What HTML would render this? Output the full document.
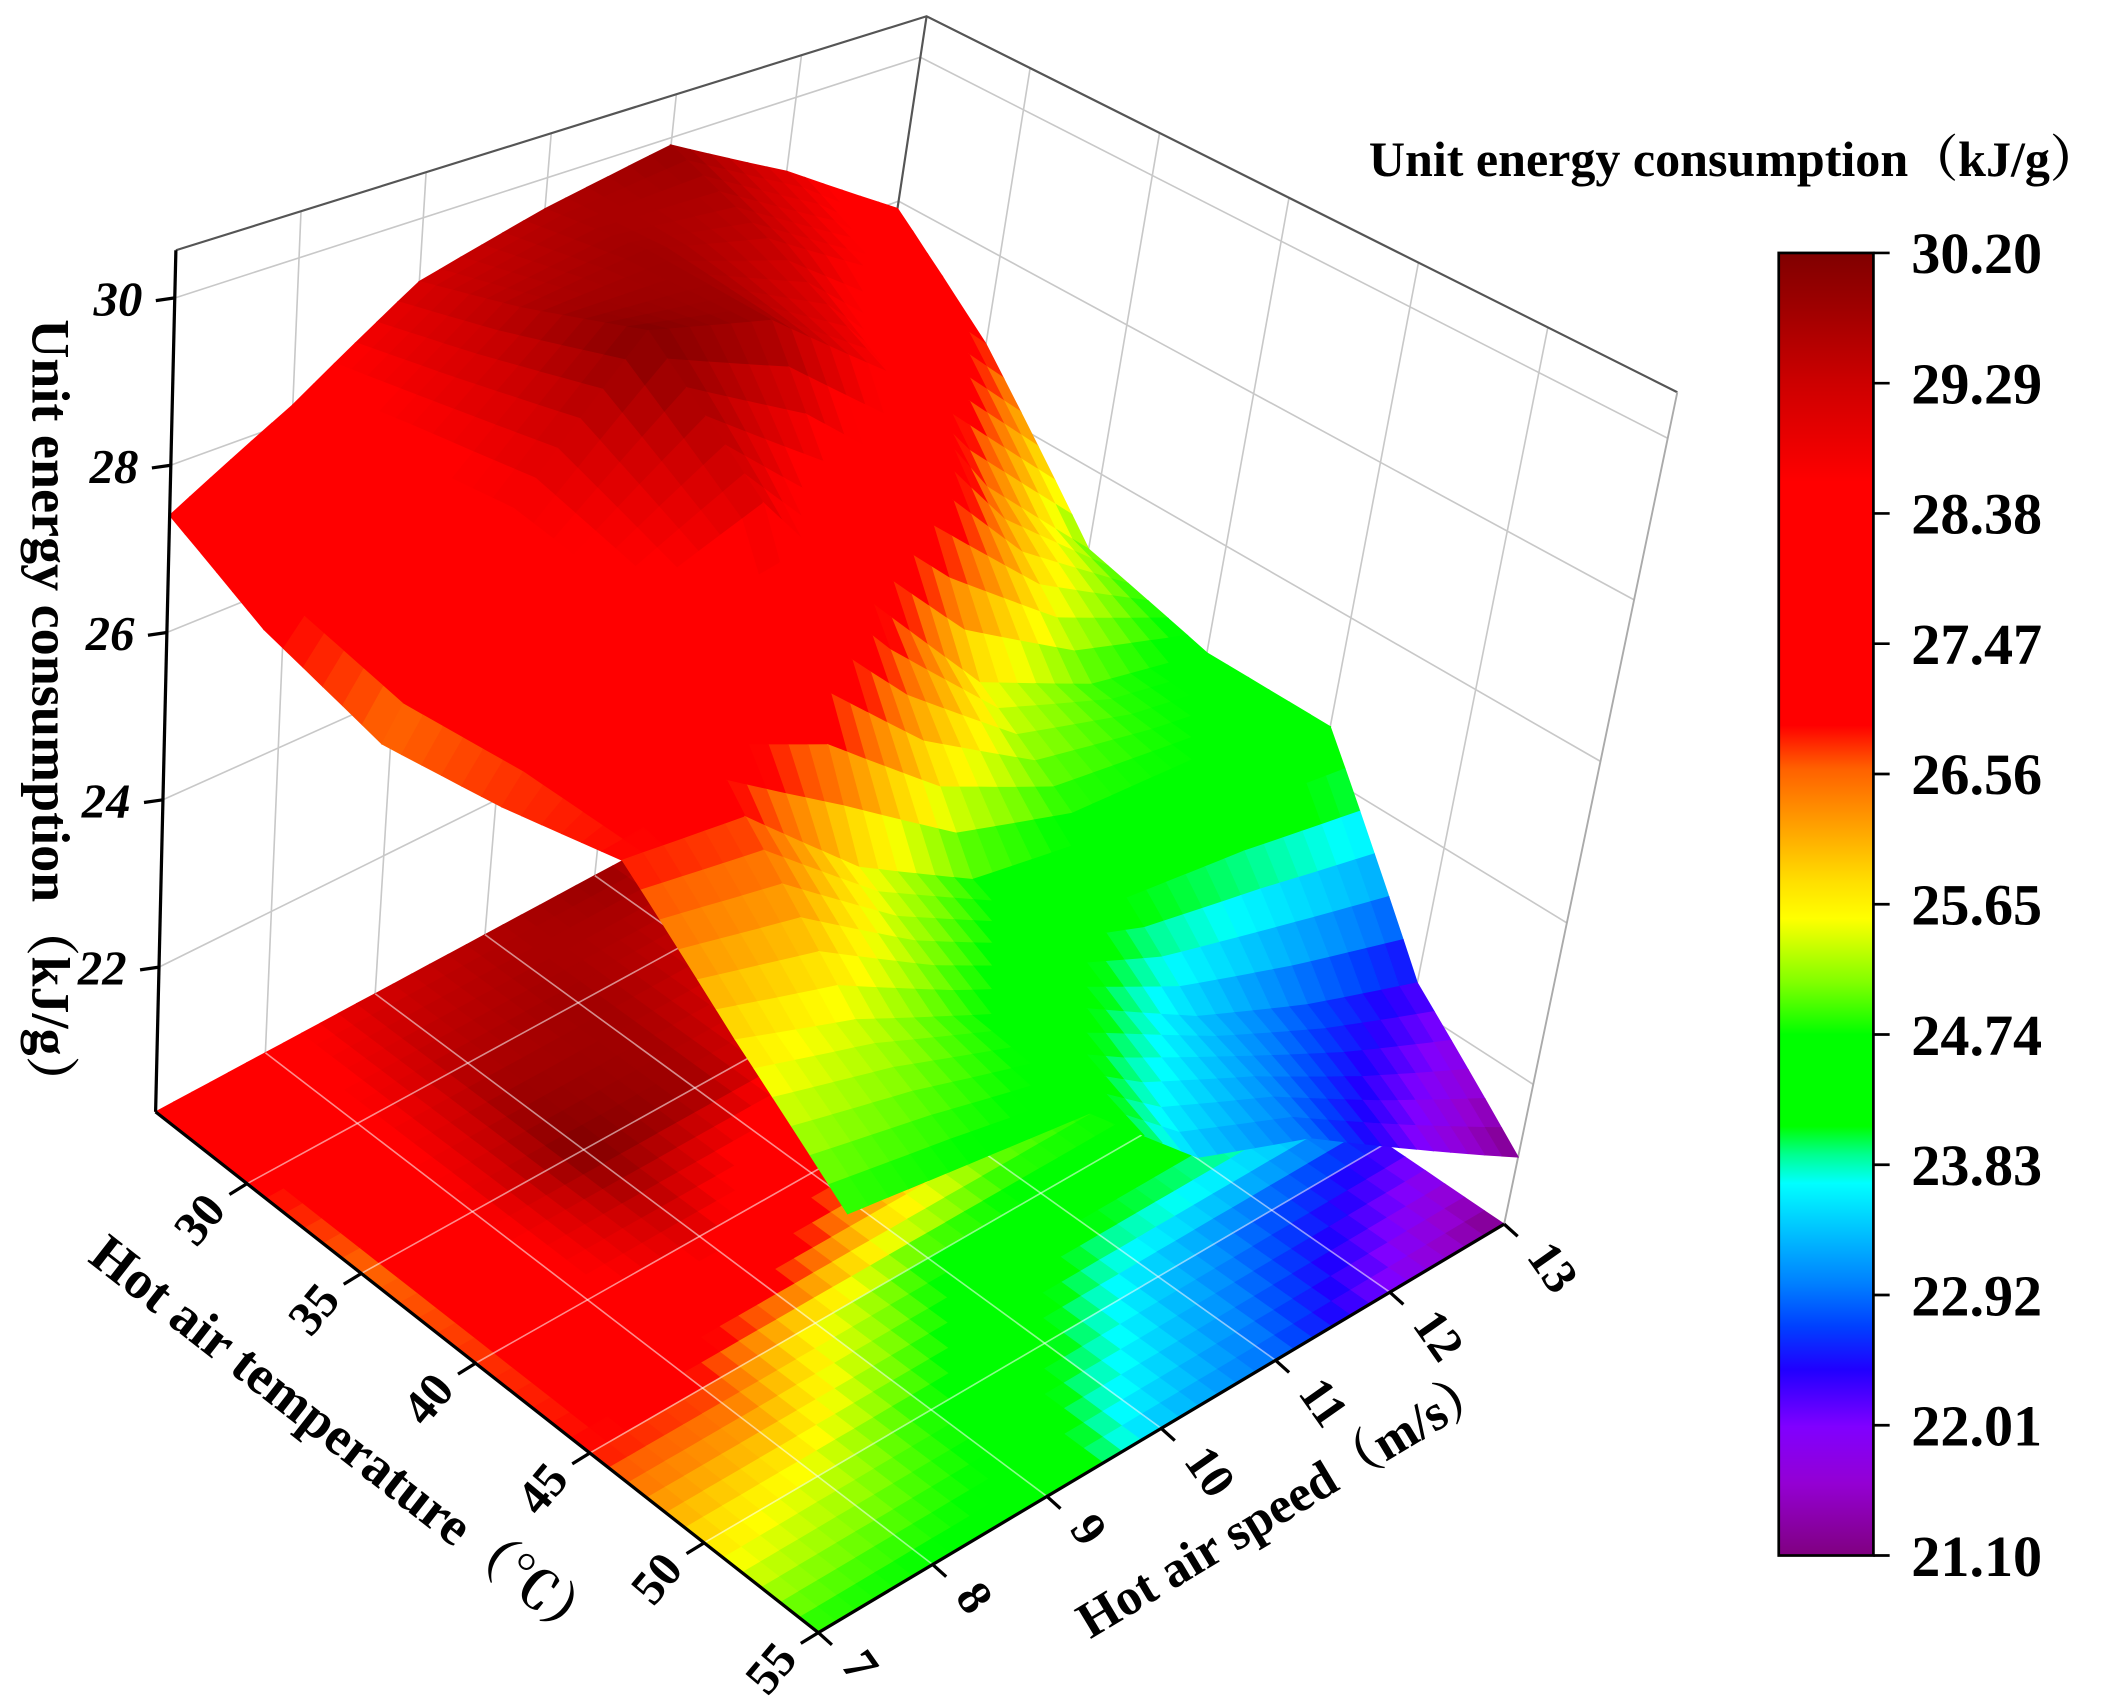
<!DOCTYPE html>
<html><head><meta charset="utf-8">
<style>
html,body{margin:0;padding:0;background:#fff;}
svg{display:block;font-family:"Liberation Serif","Noto Serif CJK SC",serif;font-weight:bold;}
</style></head>
<body>
<svg id="chart" width="2121" height="1707" viewBox="0 0 1568 1262" xmlns="http://www.w3.org/2000/svg">
<defs>
<linearGradient id="cbar" x1="0" y1="1" x2="0" y2="0"></linearGradient>
</defs>
<g id="walls"></g>
<g id="floor"></g>
<g id="surface"></g>
<g id="axes"></g>
<text transform="translate(24,236) rotate(90)" font-size="40">Unit energy consumption（kJ/g）</text>
<text transform="translate(64,932) rotate(38)" font-size="40">Hot air temperature（℃）</text>
<text transform="translate(806,1212) rotate(-31)" font-size="38">Hot air speed（m/s）</text>
<text x="1012" y="130" font-size="37">Unit energy consumption（kJ/g）</text>
<g id="colorbar"></g>
</svg>
<script>
// ---- data ----
const temps = [26, 30, 35, 40, 45, 50, 55];
const speeds = [7, 8, 9, 10, 11, 12, 13];
const energyT26 = [27.4, 28.2, 29.2, 29.6, 29.9, 29.0, 27.9];
const energyT30 = [26.8, 28.4, 29.6, 29.8, 29.4, 28.4, 26.8];
const energyT35 = [26.4, 28.6, 30.2, 29.8, 28.6, 26.5, 25.0];
const energyT40 = [26.6, 28.4, 29.0, 27.2, 25.6, 24.9, 24.6];
const energyT45 = [26.9, 26.8, 25.6, 24.8, 24.6, 24.7, 24.6];
const energyT50 = [25.8, 25.4, 24.8, 24.2, 23.4, 22.8, 22.3];
const energyT55 = [24.8, 24.7, 24.6, 23.4, 22.9, 22.0, 21.1];
const energyRows = [energyT26, energyT30, energyT35, energyT40, energyT45, energyT50, energyT55];
const zTicks = [22, 24, 26, 28, 30];
const tempTicks = [30, 35, 40, 45, 50, 55];
const speedTicks = [7, 8, 9, 10, 11, 12, 13];
const cbarLabels = ["21.10","22.01","22.92","23.83","24.74","25.65","26.56","27.47","28.38","29.29","30.20"];

// ---- geometry ----
const tMin = 26, tMax = 55, sMin = 7, sMax = 13, zMin = 20.27, zMax = 30.57;
const BL = [115, 822], F = [605, 1207], B = [602, 560], R = [1112, 905];
const BLt = [130, 185], Ft = [654, 503], Bt = [685, 12], Rt = [1240, 290];
function bil(p00, p10, p01, p11, a, b) {
  return [
    p00[0]*(1-a)*(1-b) + p10[0]*a*(1-b) + p01[0]*(1-a)*b + p11[0]*a*b,
    p00[1]*(1-a)*(1-b) + p10[1]*a*(1-b) + p01[1]*(1-a)*b + p11[1]*a*b
  ];
}
function proj(t, s, z) {
  const a = (t - tMin)/(tMax - tMin), b = (s - sMin)/(sMax - sMin), c = (z - zMin)/(zMax - zMin);
  const lo = bil(BL, F, B, R, a, b), hi = bil(BLt, Ft, Bt, Rt, a, b);
  return [lo[0] + (hi[0]-lo[0])*c, lo[1] + (hi[1]-lo[1])*c];
}
const stops = [[21.1,[128,0,128]],[21.6,[148,0,211]],[22.0,[128,0,255]],[22.4,[32,0,255]],[22.7,[0,64,255]],[23.0,[0,128,255]],[23.4,[0,200,255]],[23.7,[0,255,255]],[23.9,[0,255,144]],[24.1,[0,255,0]],[24.74,[0,255,0]],[25.1,[128,255,0]],[25.55,[255,255,0]],[25.8,[255,224,0]],[26.2,[255,160,0]],[26.6,[255,96,0]],[26.9,[255,0,0]],[28.6,[255,0,0]],[29.3,[204,0,0]],[29.8,[160,0,0]],[30.2,[128,0,0]]];
function cmap(v) {
  if (v <= stops[0][0]) return 'rgb(' + stops[0][1].join(',') + ')';
  for (let i = 1; i < stops.length; i++) {
    if (v <= stops[i][0]) {
      const f = (v - stops[i-1][0])/(stops[i][0]-stops[i-1][0]);
      const c = stops[i-1][1].map((x,k)=>Math.round(x + (stops[i][1][k]-x)*f));
      return 'rgb(' + c.join(',') + ')';
    }
  }
  return 'rgb(' + stops[stops.length-1][1].join(',') + ')';
}
const NS = 'http://www.w3.org/2000/svg';
function mk(tag, attrs, parent) {
  const el = document.createElementNS(NS, tag);
  for (const k in attrs) el.setAttribute(k, attrs[k]);
  parent.appendChild(el);
  return el;
}
function pts(arr) { return arr.map(p => p[0].toFixed(1) + ',' + p[1].toFixed(1)).join(' '); }
function zAt(i, j, u, v) {
  const z00 = energyRows[i][j], z10 = energyRows[i+1][j], z01 = energyRows[i][j+1], z11 = energyRows[i+1][j+1];
  return z00*(1-u)*(1-v) + z10*u*(1-v) + z01*(1-u)*v + z11*u*v;
}

// ---- walls ----
const walls = document.getElementById('walls');
const grid = 'stroke:#c8c8c8;stroke-width:1.2;fill:none';
for (let s = 8; s <= 12; s++) {
  const el = mk('line', {x1: proj(tMin,s,zMin)[0], y1: proj(tMin,s,zMin)[1], x2: proj(tMin,s,zMax)[0], y2: proj(tMin,s,zMax)[1], style: grid}, walls);
  
  
}
for (const z of zTicks) {
  const p1 = proj(tMin,sMin,z), p2 = proj(tMin,sMax,z), p3 = proj(tMax,sMax,z);
  const el = mk('polyline', {points: pts([p1,p2,p3]), style: grid}, walls);
  
  
}
for (const t of [30,35,40,45,50]) {
  const el = mk('line', {x1: proj(t,sMax,zMin)[0], y1: proj(t,sMax,zMin)[1], x2: proj(t,sMax,zMax)[0], y2: proj(t,sMax,zMax)[1], style: grid}, walls);
  
  
}
mk('polyline', {points: pts([BLt, Bt, Rt]), style: 'stroke:#555;stroke-width:1.6;fill:none'}, walls);
mk('line', {x1: B[0], y1: B[1], x2: Bt[0], y2: Bt[1], style: 'stroke:#555;stroke-width:1.6'}, walls);
mk('line', {x1: R[0], y1: R[1], x2: Rt[0], y2: Rt[1], style: 'stroke:#aaa;stroke-width:1.4'}, walls);

// ---- floor & surface ----
const floor = document.getElementById('floor');
const surface = document.getElementById('surface');
const N = 6;
const quads = [];
for (let i = 0; i < temps.length - 1; i++) {
  for (let j = 0; j < speeds.length - 1; j++) {
    for (let a = 0; a < N; a++) for (let b = 0; b < N; b++) {
      const u0 = a/N, u1 = (a+1)/N, v0 = b/N, v1 = (b+1)/N;
      const T = u => temps[i] + (temps[i+1]-temps[i])*u;
      const S = v => speeds[j] + (speeds[j+1]-speeds[j])*v;
      const zc = zAt(i, j, (u0+u1)/2, (v0+v1)/2);
      const col = cmap(zc);
      const fp = [proj(T(u0),S(v0),zMin), proj(T(u1),S(v0),zMin), proj(T(u1),S(v1),zMin), proj(T(u0),S(v1),zMin)];
      const fq = mk('polygon', {points: pts(fp), fill: col, stroke: col, 'stroke-width': 0.8}, floor);
      
      
      const sp = [proj(T(u0),S(v0),zAt(i,j,u0,v0)), proj(T(u1),S(v0),zAt(i,j,u1,v0)), proj(T(u1),S(v1),zAt(i,j,u1,v1)), proj(T(u0),S(v1),zAt(i,j,u0,v1))];
      const cen = proj(T((u0+u1)/2), S((v0+v1)/2), zMin);
      quads.push({p: sp, c: col, d: cen[1]});
    }
  }
}
for (const t of [30,35,40,45,50]) {
  const el = mk('line', {x1: proj(t,sMin,zMin)[0], y1: proj(t,sMin,zMin)[1], x2: proj(t,sMax,zMin)[0], y2: proj(t,sMax,zMin)[1], style: 'stroke:rgba(255,255,255,0.55);stroke-width:1.2'}, floor);
  
  
}
for (let s = 8; s <= 12; s++) {
  const el = mk('line', {x1: proj(tMin,s,zMin)[0], y1: proj(tMin,s,zMin)[1], x2: proj(tMax,s,zMin)[0], y2: proj(tMax,s,zMin)[1], style: 'stroke:rgba(255,255,255,0.55);stroke-width:1.2'}, floor);
  
  
}
quads.sort((x, y) => x.d - y.d);
for (const q of quads) {
  const el = mk('polygon', {points: pts(q.p), fill: q.c, stroke: q.c, 'stroke-width': 0.8}, surface);
  
  
}

// ---- axes ----
const axes = document.getElementById('axes');
const ax = 'stroke:#000;stroke-width:2.4';
mk('line', {x1: BL[0], y1: BL[1], x2: BLt[0], y2: BLt[1], style: ax}, axes);
mk('polyline', {points: pts([BL, F, R]), style: ax + ';fill:none'}, axes);
for (const z of zTicks) {
  const p = proj(tMin, sMin, z);
  mk('line', {x1: p[0], y1: p[1], x2: p[0]-14, y2: p[1]+2, style: ax}, axes);
  const el = mk('text', {x: p[0]-42, y: p[1]+13, 'font-size': 36, 'text-anchor': 'middle', 'font-style': 'italic'}, axes);
  el.textContent = z;
  
  
}
for (const t of tempTicks) {
  const p = proj(t, sMin, zMin);
  mk('line', {x1: p[0], y1: p[1], x2: p[0]-13, y2: p[1]+8, style: ax}, axes);
  const el = mk('text', {transform: 'translate(' + (p[0]-26) + ',' + (p[1]+34) + ') rotate(-50)', 'font-size': 36, 'text-anchor': 'middle'}, axes);
  el.textContent = t;
  
  
}
for (const s of speedTicks) {
  const p = proj(tMax, s, zMin);
  mk('line', {x1: p[0], y1: p[1], x2: p[0]+10, y2: p[1]+9, style: ax}, axes);
  const el = mk('text', {transform: 'translate(' + (p[0]+16) + ',' + (p[1]+24) + ') rotate(55)', 'font-size': 36, 'text-anchor': 'start'}, axes);
  el.textContent = s;
  
  
}

// ---- colorbar ----
const grad = document.getElementById('cbar');
for (const st of stops) {
  const o = (st[0]-21.1)/(30.2-21.1);
  mk('stop', {offset: o.toFixed(4), 'stop-color': 'rgb(' + st[1].join(',') + ')'}, grad);
}
const cb = document.getElementById('colorbar');
const cbTop = 187, cbBot = 1150, cbX = 1315, cbW = 70;
mk('rect', {x: cbX, y: cbTop, width: cbW, height: cbBot-cbTop, fill: 'url(#cbar)', stroke: '#000', 'stroke-width': 2}, cb);
cbarLabels.forEach((lab, k) => {
  const y = cbBot - k*(cbBot-cbTop)/(cbarLabels.length-1);
  mk('line', {x1: cbX+cbW, y1: y, x2: cbX+cbW+12, y2: y, style: 'stroke:#000;stroke-width:2'}, cb);
  const el = mk('text', {x: 1413, y: y+15, 'font-size': 43}, cb);
  el.textContent = lab;
  
  
});
</script>
</body></html>
